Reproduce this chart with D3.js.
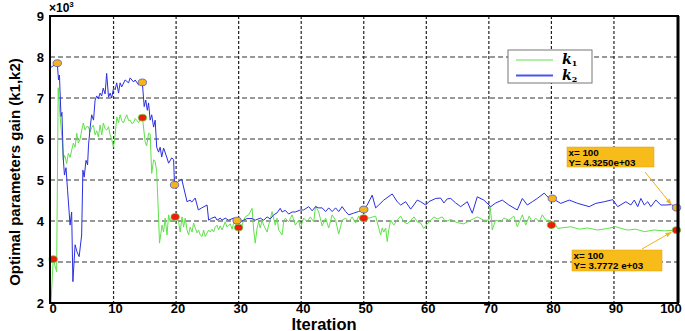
<!DOCTYPE html>
<html>
<head>
<meta charset="utf-8">
<script src="https://cdn.jsdelivr.net/npm/d3@7"></script>
<style>
  body { margin: 0; background: #fff; }
  text { font-family: "Liberation Sans", Arial, sans-serif; }
</style>
</head>
<body>
<div id="chart"></div>
<script>
// k2 (blue) - [iteration, gain x10^3]
const k2Data = [
  [0, 7.75], [1.0, 7.85], [1.2, 7.44], [1.35, 7.56], [1.6, 6.55], [1.75, 6.65], [1.95, 5.55],
  [2.15, 5.12], [2.4, 5.3], [2.65, 4.75], [3.05, 3.9], [3.3, 4.22], [3.5, 2.52], [3.85, 3.42],
  [4.15, 3.25], [4.5, 3.13], [4.9, 3.66], [5.1, 5.24], [5.3, 5.07], [5.6, 5.48], [5.85, 5.37],
  [6.0, 5.85], [6.25, 6.27], [6.5, 6.59], [6.8, 6.46], [7.05, 6.95], [7.3, 7.05], [7.55, 6.98],
  [7.85, 7.12], [8.1, 7.05], [8.35, 7.24], [8.65, 7.1], [8.9, 7.6], [9.2, 7.02], [9.45, 7.12],
  [9.7, 7.0], [10.0, 7.24], [10.25, 7.2], [10.5, 7.37], [10.8, 7.12], [11.05, 7.37], [11.3, 7.27],
  [11.85, 7.44], [12.4, 7.37], [12.65, 7.49], [13.2, 7.39], [13.45, 7.44], [14.0, 7.32], [14.6, 7.38],
  [14.9, 6.79], [15.15, 6.95], [15.4, 6.7], [15.6, 6.88], [15.85, 6.46], [16.1, 6.59], [16.4, 6.29],
  [16.65, 6.46], [16.9, 5.8], [17.2, 5.68], [17.45, 5.8], [17.7, 5.56], [18.0, 5.78], [18.5, 5.56],
  [18.8, 5.41], [19.3, 5.54], [19.6, 5.5], [19.75, 4.88], [20.35, 4.96], [20.9, 5.02], [21.75, 4.47],
  [22.25, 4.51], [22.5, 4.46], [23.05, 4.56], [23.35, 4.39], [23.55, 4.27], [24.1, 4.32], [24.95, 4.39],
  [25.2, 4.02], [25.7, 4.07], [26.25, 4.1], [26.55, 4.02], [27.05, 4.07], [27.35, 4.02], [27.85, 4.07],
  [28.4, 4.02], [29.2, 4.07], [29.75, 4.01], [30.25, 3.98], [30.8, 4.02], [31.35, 4.06], [32.15, 4.06],
  [32.65, 4.02], [33.45, 4.07], [34.0, 4.02], [34.55, 4.1], [35.05, 4.05], [35.6, 4.15], [36.15, 4.2],
  [36.65, 4.31], [36.95, 4.22], [37.45, 4.26], [38.0, 4.17], [38.55, 4.22], [39.05, 4.22], [39.9, 4.27],
  [40.4, 4.27], [41.2, 4.35], [41.75, 4.25], [42.3, 4.35], [42.8, 4.32], [43.35, 4.32], [43.9, 4.23],
  [44.4, 4.32], [44.95, 4.23], [45.5, 4.32], [46.0, 4.23], [46.55, 4.35], [47.1, 4.23], [47.6, 4.15],
  [48.35, 4.19], [49.15, 4.23], [50, 4.28], [50.55, 4.39], [51.35, 4.63], [51.9, 4.32], [52.4, 4.39],
  [53.2, 4.51], [54.55, 4.66], [55.35, 4.47], [55.9, 4.39], [56.7, 4.47], [57.5, 4.29], [58.0, 4.39],
  [58.55, 4.51], [59.1, 4.47], [59.9, 4.39], [60.4, 4.47], [61.5, 4.55], [62.3, 4.56], [62.8, 4.44],
  [63.35, 4.54], [63.9, 4.55], [64.7, 4.44], [65.5, 4.35], [66.55, 4.47], [67.35, 4.19], [68.15, 4.59],
  [69.2, 4.51], [70.3, 4.35], [71.1, 4.44], [72.15, 4.51], [73.2, 4.39], [74.55, 4.27], [75.35, 4.55],
  [76.15, 4.39], [76.95, 4.47], [77.75, 4.55], [78.85, 4.68], [79.65, 4.55], [80.15, 4.55], [81.5, 4.43],
  [82.85, 4.51], [84.2, 4.43], [86.05, 4.35], [87.1, 4.43], [88.45, 4.47], [89.8, 4.52], [90.6, 4.35],
  [91.9, 4.47], [92.7, 4.39], [93.25, 4.51], [93.8, 4.35], [94.3, 4.55], [94.85, 4.39], [95.4, 4.47],
  [95.9, 4.35], [96.7, 4.51], [97.5, 4.39], [98.3, 4.39], [99.2, 4.4], [100, 4.325]
];

// k1 (green)
const k1Data = [
  [0, 2.0], [0.35, 3.07], [0.9, 2.76], [1.15, 7.25], [1.4, 6.65], [1.65, 6.2], [1.8, 5.97],
  [1.97, 5.5], [2.2, 5.6], [2.51, 5.4], [2.77, 5.65], [3.05, 5.55], [3.31, 5.73], [3.57, 5.9],
  [3.85, 5.8], [4.12, 6.14], [4.37, 5.9], [4.65, 6.0], [4.92, 6.22], [5.17, 6.39], [5.44, 6.22],
  [5.7, 6.3], [5.97, 6.3], [6.25, 6.17], [6.5, 6.28], [6.77, 6.34], [7.05, 6.1], [7.3, 6.2],
  [7.57, 6.05], [7.85, 6.34], [8.12, 6.1], [8.37, 6.39], [8.65, 6.25], [8.92, 6.22], [9.2, 6.3],
  [9.45, 6.1], [9.7, 6.0], [9.98, 5.8], [10.25, 6.1], [10.52, 6.54], [10.8, 6.4], [11.05, 6.59],
  [11.3, 6.45], [11.58, 6.39], [11.85, 6.5], [12.12, 6.59], [12.4, 6.45], [12.65, 6.46], [12.9, 6.38],
  [13.18, 6.39], [13.45, 6.5], [13.72, 6.46], [14.0, 6.4], [14.25, 6.46], [14.62, 6.52],
  [15.05, 5.93], [15.3, 5.83], [15.6, 6.14], [15.85, 6.12], [16.1, 5.16], [16.4, 5.49], [16.65, 5.46],
  [16.9, 5.2], [17.2, 4.07], [17.35, 3.46], [17.75, 3.9], [18.0, 3.73], [18.25, 4.07], [18.55, 3.66],
  [18.8, 4.15], [19.05, 3.98], [19.3, 4.1], [19.6, 4.05], [19.85, 4.1], [20.4, 3.98], [20.65, 3.73],
  [20.95, 4.1], [21.2, 3.85], [21.45, 4.07], [21.75, 3.78], [22.0, 3.66], [22.25, 3.85], [22.55, 3.73],
  [22.8, 3.95], [23.05, 3.83], [23.35, 3.71], [23.6, 3.78], [23.85, 3.66], [24.15, 3.62], [24.4, 3.78],
  [24.65, 3.62], [25.2, 3.78], [25.45, 3.73], [25.75, 3.8], [26.0, 3.73], [26.25, 3.85], [26.55, 3.9],
  [26.8, 3.78], [27.05, 3.88], [27.35, 3.78], [27.85, 3.98], [28.15, 3.85], [28.65, 3.93], [28.95, 3.8],
  [29.2, 3.95], [29.45, 3.93], [30.0, 3.84], [30.55, 3.9], [30.8, 4.02], [31.05, 4.1], [31.6, 4.15],
  [32.15, 4.31], [32.4, 3.78], [32.65, 3.46], [32.95, 3.83], [33.2, 3.98], [33.45, 3.83], [33.75, 4.02],
  [34.0, 3.9], [34.55, 3.73], [34.8, 3.9], [35.35, 4.23], [35.85, 3.9], [36.15, 4.07], [36.4, 3.78],
  [36.95, 3.66], [37.2, 3.98], [37.45, 4.07], [38.0, 3.98], [38.55, 4.15], [39.05, 3.9], [39.6, 4.02],
  [39.85, 3.83], [40.4, 4.07], [40.95, 3.98], [41.45, 4.1], [42.0, 3.98], [42.3, 4.37], [42.8, 4.22],
  [43.35, 3.88], [43.9, 4.07], [44.4, 3.83], [44.95, 4.15], [45.5, 4.02], [46.0, 3.68], [46.55, 4.02],
  [47.1, 4.07], [47.6, 3.98], [48.15, 4.1], [48.7, 3.95], [49.2, 4.12], [49.5, 4.02], [50, 4.07],
  [50.8, 4.07], [51.9, 4.12], [52.4, 3.83], [52.7, 3.66], [52.95, 3.83], [53.2, 3.73], [53.5, 3.83],
  [53.75, 3.5], [54.0, 3.78], [54.3, 4.02], [54.8, 3.9], [55.35, 4.02], [55.9, 4.12], [56.4, 3.98],
  [56.95, 3.93], [57.5, 4.02], [58.05, 4.1], [58.55, 3.98], [59.1, 3.95], [59.6, 3.82], [60.15, 3.93],
  [60.7, 4.02], [61.2, 4.1], [61.75, 4.05], [62.55, 4.1], [63.1, 3.98], [63.9, 4.04], [64.95, 3.96],
  [66.0, 3.93], [67.1, 4.02], [68.15, 4.1], [69.2, 4.02], [70.0, 4.02], [70.2, 4.35], [70.4, 4.07],
  [70.55, 3.78], [70.8, 3.9], [71.1, 4.02], [71.9, 3.98], [72.4, 4.07], [73.2, 4.02], [74.0, 4.12],
  [74.55, 3.86], [75.35, 4.15], [75.9, 3.9], [76.45, 4.12], [76.95, 3.98], [77.5, 4.07], [78.05, 3.98],
  [78.55, 4.15], [79.1, 4.02], [79.65, 4.02], [80.0, 3.9], [80.3, 4.0], [81.0, 3.82], [83.1, 3.86],
  [84.45, 3.8], [85.8, 3.83], [87.4, 3.78], [89.0, 3.82], [90.3, 3.86], [91.1, 3.82], [92.2, 3.78],
  [93.5, 3.8], [94.85, 3.74], [96.4, 3.78], [98.05, 3.76], [100, 3.7772]
];

// highlighted points
const k2Marks = [[1.0, 7.85], [14.6, 7.38], [19.75, 4.88], [29.75, 4.01], [50, 4.28], [80.15, 4.55], [100, 4.325]];
const k1Marks = [[0.35, 3.07], [14.62, 6.52], [19.85, 4.1], [30, 3.84], [50, 4.07], [80, 3.9], [100, 3.7772]];

const xTicks = d3.range(0, 101, 10);
const yTicks = d3.range(2, 10, 1);

const W = 685, H = 331;
const svg = d3.select('#chart').append('svg')
  .attr('width', W)
  .attr('height', H);

const x = d3.scaleLinear().domain([0, 100]).range([51, 676.5]);
const y = d3.scaleLinear().domain([2, 9]).range([303, 16]);

// grid
svg.append('g')
  .selectAll('line')
  .data(yTicks.filter(d => d > 2 && d < 9))
  .join('line')
  .attr('x1', 50).attr('x2', 678)
  .attr('y1', d => y(d)).attr('y2', d => y(d))
  .attr('stroke', '#333').attr('stroke-width', 1)
  .attr('stroke-dasharray', '5,3');

svg.append('g')
  .selectAll('line')
  .data(xTicks.filter(d => d > 0 && d < 100))
  .join('line')
  .attr('x1', d => x(d)).attr('x2', d => x(d))
  .attr('y1', 16).attr('y2', 303)
  .attr('stroke', '#222').attr('stroke-width', 1.2)
  .attr('stroke-dasharray', '3,2');

// series lines
const line = d3.line().x(d => x(d[0])).y(d => y(d[1]));

svg.append('path')
  .datum(k1Data)
  .attr('fill', 'none')
  .attr('stroke', '#5fe24a')
  .attr('stroke-width', 1)
  .attr('d', line);

svg.append('path')
  .datum(k2Data)
  .attr('fill', 'none')
  .attr('stroke', '#2b2fe0')
  .attr('stroke-width', 1)
  .attr('d', line);

// markers
svg.append('g')
  .selectAll('ellipse')
  .data(k2Marks)
  .join('ellipse')
  .attr('cx', d => x(d[0])).attr('cy', d => y(d[1]))
  .attr('rx', 4.2).attr('ry', 3.4)
  .attr('fill', '#f6b41c')
  .attr('stroke', '#4a55d8').attr('stroke-width', 0.8);

svg.append('g')
  .selectAll('ellipse')
  .data(k1Marks)
  .join('ellipse')
  .attr('cx', d => x(d[0])).attr('cy', d => y(d[1]))
  .attr('rx', 4.2).attr('ry', 3.4)
  .attr('fill', '#f21a0a')
  .attr('stroke', '#62d84a').attr('stroke-width', 0.8);

// frame
svg.append('rect')
  .attr('x', 50).attr('y', 16)
  .attr('width', 628).attr('height', 287)
  .attr('fill', 'none')
  .attr('stroke', '#000').attr('stroke-width', 2);
svg.append('line')
  .attr('x1', 678).attr('x2', 678).attr('y1', 16).attr('y2', 303)
  .attr('stroke', '#000').attr('stroke-width', 3);

// tick labels
svg.append('g')
  .selectAll('text')
  .data(yTicks)
  .join('text')
  .attr('x', 44).attr('y', d => y(d) + 5)
  .attr('text-anchor', 'end')
  .style('font-size', '13px').style('font-weight', 'bold')
  .text(d => d);

svg.append('g')
  .selectAll('text')
  .data(xTicks)
  .join('text')
  .attr('x', d => Math.min(x(d) + 2, 671)).attr('y', 312.5)
  .attr('text-anchor', 'middle')
  .style('font-size', '13px').style('font-weight', 'bold')
  .text(d => d);

// x10^3
const mult = svg.append('text')
  .attr('x', 49).attr('y', 12)
  .style('font-size', '12px').style('font-weight', 'bold');
mult.append('tspan').text('\u00d710');
mult.append('tspan').attr('dy', -5).style('font-size', '8px').text('3');

// axis titles
svg.append('text')
  .attr('x', 324).attr('y', 329.5)
  .attr('text-anchor', 'middle')
  .style('font-size', '16.5px').style('font-weight', 'bold')
  .text('Iteration');

svg.append('text')
  .attr('transform', 'translate(20,172) rotate(-90)')
  .attr('text-anchor', 'middle')
  .style('font-size', '15px').style('font-weight', 'bold')
  .text('Optimal parameters gain (k1,k2)');

// legend
const leg = svg.append('g');
leg.append('rect')
  .attr('x', 508).attr('y', 50).attr('width', 84).attr('height', 33)
  .attr('fill', '#fff').attr('stroke', '#777').attr('stroke-width', 1);
const legItems = [['k', '1', '#5fe24a', 60, 1], ['k', '2', '#4b55ee', 75.5, 2]];
legItems.forEach(([k, sub, col, ly, sw]) => {
  leg.append('line')
    .attr('x1', 516).attr('x2', 553).attr('y1', ly).attr('y2', ly)
    .attr('stroke', col).attr('stroke-width', sw);
  const t = leg.append('text')
    .attr('x', 562).attr('y', ly + 4)
    .style('font-family', '"DejaVu Serif", serif')
    .style('font-size', '14px').style('font-weight', 'bold').style('font-style', 'italic');
  t.append('tspan').text(k);
  t.append('tspan').attr('dy', 2).style('font-size', '8px').style('font-style', 'normal').text(sub);
});

// data tips
const tips = [
  { box: [567, 147, 87, 20], lines: ['x= 100', 'Y= 4.3250e+03'], from: [645, 172], to: k2Marks[6] },
  { box: [572, 250, 90, 21], lines: ['x= 100', 'Y= 3.7772 e+03'], from: [642, 249], to: k1Marks[6] }
];

svg.append('defs').append('marker')
  .attr('id', 'arr').attr('viewBox', '0 0 10 10')
  .attr('refX', 10).attr('refY', 5)
  .attr('markerWidth', 6).attr('markerHeight', 6)
  .attr('orient', 'auto')
  .append('path').attr('d', 'M0,1 L10,5 L0,9 z').attr('fill', '#efb020');

tips.forEach(tp => {
  const [bx, by, bw, bh] = tp.box;
  svg.append('rect')
    .attr('x', bx).attr('y', by).attr('width', bw).attr('height', bh)
    .attr('fill', '#f7bb1a').attr('stroke', '#e0a010').attr('stroke-width', 0.5);
  tp.lines.forEach((s, i) => {
    svg.append('text')
      .attr('x', bx + 1.5).attr('y', by + 8.5 + i * 10)
      .style('font-size', '9.8px').style('font-weight', 'bold')
      .text(s);
  });
  svg.append('line')
    .attr('x1', tp.from[0]).attr('y1', tp.from[1])
    .attr('x2', x(tp.to[0]) - 5).attr('y2', y(tp.to[1]) + (tp.from[1] < y(tp.to[1]) ? -3 : 2))
    .attr('stroke', '#efb020').attr('stroke-width', 1)
    .attr('marker-end', 'url(#arr)');
});
</script>
</body>
</html>
